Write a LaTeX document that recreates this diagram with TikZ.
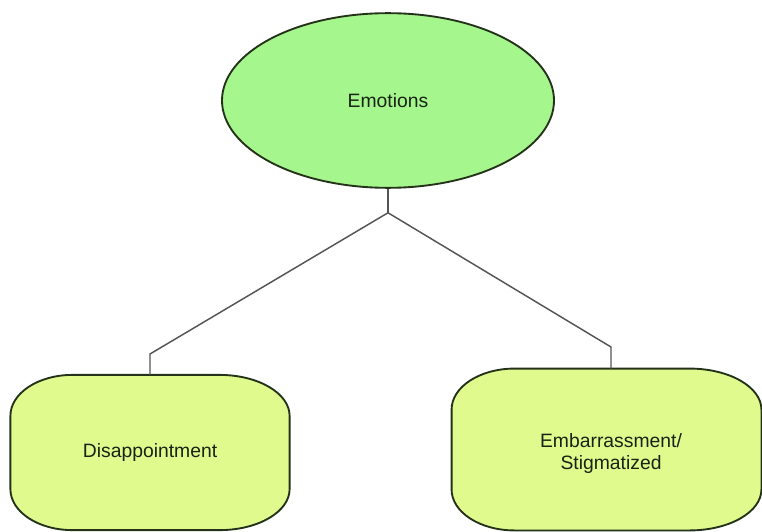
\documentclass[tikz,border=0pt]{standalone}
\usepackage{fontspec}
\setmainfont{Liberation Sans}
\usetikzlibrary{shapes.geometric}

\definecolor{emofill}{RGB}{166,246,142}
\definecolor{boxfill}{RGB}{225,250,142}
\definecolor{edgecol}{RGB}{35,50,25}
\definecolor{linkcol}{RGB}{85,85,85}
\definecolor{textcol}{RGB}{25,35,20}

\tikzset{
	emotion/.style={ellipse, draw=edgecol, line width=1.4pt, fill=emofill, minimum width=249pt, minimum height=131pt, text=textcol},
	boxspace/.style={inner sep=0pt, minimum width=#1},
	boxline/.style={draw=edgecol, line width=1.4pt, fill=boxfill},
	label/.style={text=textcol, align=center, font=\fontsize{14.5}{16.5}\selectfont},
	link/.style={draw=linkcol, line width=1.1pt}
}

\begin{document}
\begin{tikzpicture}[x=0.75pt, y=0.75pt]
		%\draw[very thin, lightgray, step=10] (0,0) grid (762,-531);
		\useasboundingbox (0,0) rectangle (762,-531);

		% WRITE THE TOP ELLIPSE
		\node[emotion, font=\fontsize{14.5}{16.5}\selectfont] (emo) at (388,-100.5) {Emotions};

		% PLACE THE TWO BOXES
		\node[boxspace=209pt, minimum height=116pt] (dis) at (150,-452.5) {};
		\node[boxspace=232pt, minimum height=121pt] (emb) at (606.5,-449.5) {};

		\draw[boxline] ([shift={(62,0)}]dis.north west) -- ([shift={(-70,0)}]dis.north east)
			arc[start angle=90, end angle=0, x radius=70, y radius=41] -- ([shift={(0,41)}]dis.south east)
			arc[start angle=0, end angle=-90, x radius=70, y radius=41] -- ([shift={(62,0)}]dis.south west)
			arc[start angle=-90, end angle=-180, x radius=62, y radius=41] -- ([shift={(0,-41)}]dis.north west)
			arc[start angle=180, end angle=90, x radius=62, y radius=41] -- cycle;

		\draw[boxline] ([shift={(63,0)}]emb.north west) -- ([shift={(-72,0)}]emb.north east)
			arc[start angle=90, end angle=0, x radius=72, y radius=41] -- ([shift={(0,41)}]emb.south east)
			arc[start angle=0, end angle=-90, x radius=72, y radius=41] -- ([shift={(63,0)}]emb.south west)
			arc[start angle=-90, end angle=-180, x radius=63, y radius=41] -- ([shift={(0,-41)}]emb.north west)
			arc[start angle=180, end angle=90, x radius=63, y radius=41] -- cycle;

		% DRAW NOTES
		\node[label] at (dis.center) {Disappointment};
		\node[label] at (611,-453) {Embarrassment/\\Stigmatized};

		% DRAW THE CONNECTORS
		\coordinate (fork) at ([shift={(0,-24)}]emo.south);
		\coordinate (kinkL) at (150,-354);
		\coordinate (kinkR) at (611,-347);
		\draw[link] (emo.south) -- (fork);
		\draw[link] (fork) -- (kinkL) -- (kinkL |- dis.north);
		\draw[link] (fork) -- (kinkR) -- (kinkR |- emb.north);
	\end{tikzpicture}
\end{document}
